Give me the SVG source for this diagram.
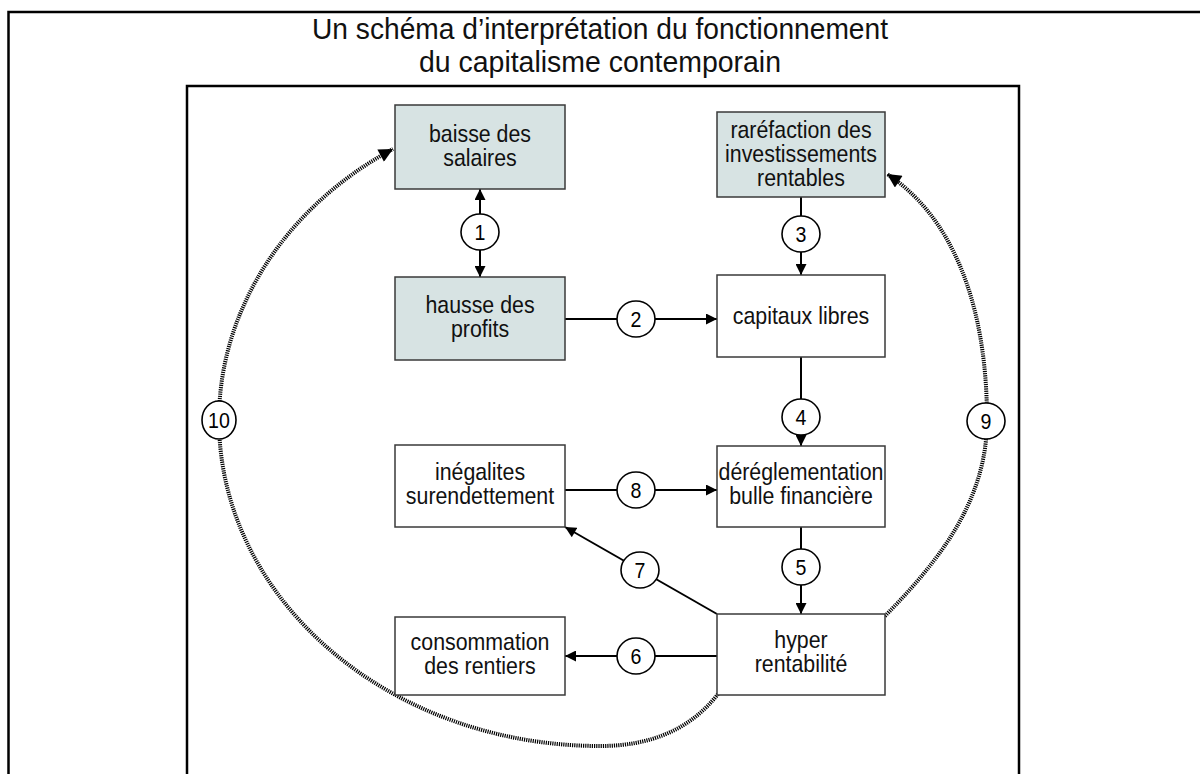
<svg xmlns="http://www.w3.org/2000/svg" width="1200" height="774" viewBox="0 0 1200 774">
<style>
.frame{fill:none;stroke:#000;stroke-width:2.5}
.box{stroke:#3a3a3a;stroke-width:1.5}
.g{fill:#d7e3e3}
.w{fill:#fff}
.t{font-family:"Liberation Sans",Arial,sans-serif;font-size:24px;fill:#111;text-anchor:middle}
.title{font-family:"Liberation Sans",Arial,sans-serif;font-size:30px;fill:#111;text-anchor:middle}
.ln{fill:none;stroke:#000;stroke-width:2}
.dot{fill:none;stroke:#000;stroke-width:4;stroke-dasharray:1.2 1}
.c{fill:#fff;stroke:#000;stroke-width:1.6}
.n{font-family:"Liberation Sans",Arial,sans-serif;font-size:22px;fill:#000;text-anchor:middle}
</style>
<defs>
<marker id="ah" viewBox="0 0 10 10" refX="10" refY="5" markerWidth="12" markerHeight="11" markerUnits="userSpaceOnUse" orient="auto-start-reverse"><path d="M0,0 L10,5 L0,10 z" fill="#000"/></marker>
<marker id="ahb" viewBox="0 0 10 10" refX="10" refY="5" markerWidth="15" markerHeight="14" markerUnits="userSpaceOnUse" orient="auto"><path d="M0,0 L10,5 L0,10 z" fill="#000"/></marker>
</defs>
<rect width="1200" height="774" fill="#fff"/>
<rect class="frame" x="8.5" y="12" width="1200" height="800"/>
<g id="title">
<text class="title" x="600" y="39" textLength="576" lengthAdjust="spacingAndGlyphs">Un schéma d’interprétation du fonctionnement</text>
<text class="title" x="600" y="72" textLength="362" lengthAdjust="spacingAndGlyphs">du capitalisme contemporain</text>
</g>
<rect class="frame" x="187" y="86" width="832" height="720"/>

<g id="connectors">
<path class="dot" d="M718,694 C690,730 650,746 600,746 C390,746 219,600 219,420 C219,310 285,207 393,149" marker-end="url(#ahb)"/>
<path class="dot" d="M885,616 C940,560 987,500 987,420 C987,300 950,215 887,174" marker-end="url(#ahb)"/>
<line class="ln" x1="480" y1="189" x2="480" y2="277" marker-start="url(#ah)" marker-end="url(#ah)"/>
<line class="ln" x1="565" y1="319" x2="717" y2="319" marker-end="url(#ah)"/>
<line class="ln" x1="801" y1="197" x2="801" y2="275" marker-end="url(#ah)"/>
<line class="ln" x1="801" y1="357" x2="801" y2="446" marker-end="url(#ah)"/>
<line class="ln" x1="801" y1="527" x2="801" y2="614" marker-end="url(#ah)"/>
<line class="ln" x1="717" y1="656" x2="565" y2="656" marker-end="url(#ah)"/>
<line class="ln" x1="717" y1="614" x2="565" y2="527" marker-end="url(#ah)"/>
<line class="ln" x1="565" y1="490" x2="717" y2="490" marker-end="url(#ah)"/>
<ellipse class="c" cx="480" cy="232" rx="19" ry="18"/><text class="n" x="480" y="240" transform="matrix(0.89 0 0 1 52.8 0)">1</text>
<ellipse class="c" cx="636" cy="319" rx="19" ry="18"/><text class="n" x="636" y="327" transform="matrix(0.89 0 0 1 69.96 0)">2</text>
<ellipse class="c" cx="801" cy="234" rx="19" ry="18"/><text class="n" x="801" y="242" transform="matrix(0.89 0 0 1 88.11 0)">3</text>
<ellipse class="c" cx="801" cy="417" rx="19" ry="18"/><text class="n" x="801" y="425" transform="matrix(0.89 0 0 1 88.11 0)">4</text>
<ellipse class="c" cx="801" cy="567" rx="19" ry="18"/><text class="n" x="801" y="575" transform="matrix(0.89 0 0 1 88.11 0)">5</text>
<ellipse class="c" cx="636" cy="656" rx="19" ry="18"/><text class="n" x="636" y="664" transform="matrix(0.89 0 0 1 69.96 0)">6</text>
<ellipse class="c" cx="640" cy="570" rx="19" ry="18"/><text class="n" x="640" y="578" transform="matrix(0.89 0 0 1 70.4 0)">7</text>
<ellipse class="c" cx="636" cy="490" rx="19" ry="18"/><text class="n" x="636" y="498" transform="matrix(0.89 0 0 1 69.96 0)">8</text>
<ellipse class="c" cx="986" cy="421" rx="19" ry="18"/><text class="n" x="986" y="429" transform="matrix(0.89 0 0 1 108.46 0)">9</text>
<ellipse class="c" cx="219" cy="420" rx="17" ry="19"/><text class="n" x="219" y="428" transform="matrix(0.89 0 0 1 24.09 0)">10</text>
</g>

<g id="baisse">
<rect class="box g" x="395" y="105" width="170" height="84"/>
<text class="t" x="480" y="142" transform="matrix(0.89 0 0 1 52.8 0)">baisse des</text>
<text class="t" x="480" y="166" transform="matrix(0.89 0 0 1 52.8 0)">salaires</text>
</g>
<g id="hausse">
<rect class="box g" x="395" y="277" width="170" height="83"/>
<text class="t" x="480" y="313" transform="matrix(0.89 0 0 1 52.8 0)">hausse des</text>
<text class="t" x="480" y="337" transform="matrix(0.89 0 0 1 52.8 0)">profits</text>
</g>
<g id="rarefaction">
<rect class="box g" x="717" y="112" width="168" height="85"/>
<text class="t" x="801" y="138" transform="matrix(0.89 0 0 1 88.11 0)">raréfaction des</text>
<text class="t" x="801" y="162" transform="matrix(0.89 0 0 1 88.11 0)">investissements</text>
<text class="t" x="801" y="186" transform="matrix(0.89 0 0 1 88.11 0)">rentables</text>
</g>
<g id="capitaux">
<rect class="box w" x="717" y="275" width="168" height="82"/>
<text class="t" x="801" y="324" transform="matrix(0.89 0 0 1 88.11 0)">capitaux libres</text>
</g>
<g id="inegalites">
<rect class="box w" x="395" y="445" width="170" height="82"/>
<text class="t" x="480" y="480" transform="matrix(0.89 0 0 1 52.8 0)">inégalites</text>
<text class="t" x="480" y="504" transform="matrix(0.89 0 0 1 52.8 0)">surendettement</text>
</g>
<g id="dereglementation">
<rect class="box w" x="717" y="446" width="168" height="81"/>
<text class="t" x="801" y="480" transform="matrix(0.89 0 0 1 88.11 0)">déréglementation</text>
<text class="t" x="801" y="504" transform="matrix(0.89 0 0 1 88.11 0)">bulle financière</text>
</g>
<g id="consommation">
<rect class="box w" x="395" y="617" width="170" height="78"/>
<text class="t" x="480" y="650" transform="matrix(0.89 0 0 1 52.8 0)">consommation</text>
<text class="t" x="480" y="674" transform="matrix(0.89 0 0 1 52.8 0)">des rentiers</text>
</g>
<g id="hyper">
<rect class="box w" x="717" y="614" width="168" height="81"/>
<text class="t" x="801" y="648" transform="matrix(0.89 0 0 1 88.11 0)">hyper</text>
<text class="t" x="801" y="672" transform="matrix(0.89 0 0 1 88.11 0)">rentabilité</text>
</g>
</svg>
